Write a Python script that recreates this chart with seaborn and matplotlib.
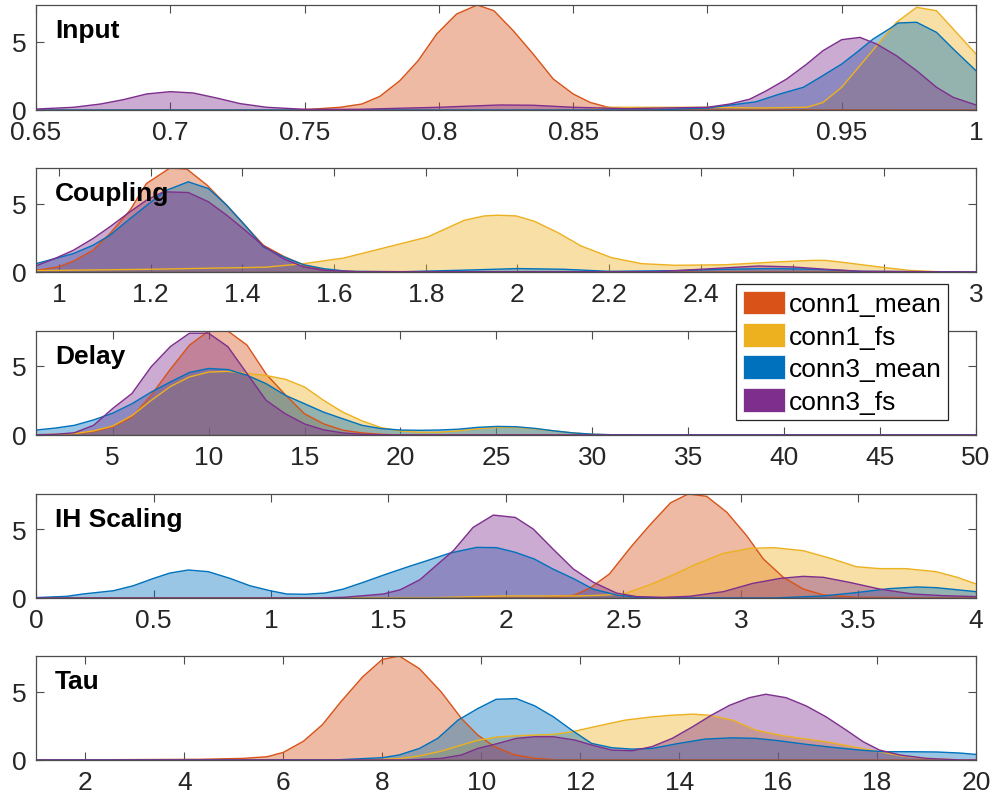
import matplotlib
matplotlib.use("Agg")
import matplotlib.pyplot as plt
import seaborn as sns
import pandas as pd
from matplotlib.patches import Patch
from matplotlib.colors import to_rgba

# ---------------- data ----------------
series_names = ["conn1_mean", "conn1_fs", "conn3_mean", "conn3_fs"]
series_colors = ["#D95319", "#EDB120", "#0072BD", "#7E2F8E"]
panel_titles = ["Input", "Coupling", "Delay", "IH Scaling", "Tau"]

# Input
input_x_c1m = [0.65, 0.74, 0.752, 0.7632, 0.7713, 0.778, 0.7855, 0.7923, 0.7992, 0.8066, 0.8143, 0.8205, 0.8277, 0.8351, 0.8426, 0.85, 0.8563, 0.863, 0.87, 1.0]
input_y_c1m = [0, 0, 0.05, 0.2, 0.44, 1.0, 2.16, 3.63, 5.59, 7.06, 7.72, 7.3, 5.83, 4.12, 2.28, 1.18, 0.56, 0.2, 0.05, 0]
input_x_c1f = [0.65, 0.855, 0.862, 0.9, 0.92, 0.937, 0.943, 0.95, 0.9568, 0.963, 0.9704, 0.9779, 0.9853, 0.9915, 1.0]
input_y_c1f = [0, 0, 0.2, 0.2, 0.15, 0.2, 0.55, 1.67, 3.26, 4.73, 6.45, 7.55, 7.3, 5.96, 4.12]
input_x_c3m = [0.65, 0.88, 0.9, 0.918, 0.927, 0.9357, 0.9419, 0.95, 0.9556, 0.9617, 0.968, 0.971, 0.9779, 0.9853, 0.9915, 1.0]
input_y_c3m = [0, 0, 0.15, 0.6, 1.18, 1.67, 2.4, 3.38, 4.24, 5.22, 6.0, 6.4, 6.45, 5.71, 4.49, 2.89]
input_x_c3f = [0.65, 0.664, 0.674, 0.6825, 0.6912, 0.7, 0.7086, 0.7173, 0.726, 0.7359, 0.75, 0.77, 0.8, 0.8227, 0.835, 0.85, 0.87, 0.9, 0.9084, 0.9158, 0.922, 0.9295, 0.937, 0.943, 0.95, 0.9568, 0.963, 0.9704, 0.9779, 0.9853, 0.9915, 1.0]
input_y_c3f = [0.07, 0.2, 0.44, 0.76, 1.18, 1.35, 1.25, 0.88, 0.47, 0.2, 0.05, 0.05, 0.2, 0.37, 0.35, 0.2, 0.1, 0.2, 0.44, 0.8, 1.42, 2.28, 3.38, 4.36, 5.17, 5.34, 4.85, 3.99, 2.89, 1.67, 0.93, 0.37]

# Coupling
coup_x_c1m = [0.95, 0.998, 1.031, 1.074, 1.111, 1.155, 1.191, 1.242, 1.279, 1.323, 1.366, 1.406, 1.446, 1.49, 1.534, 1.578, 1.65, 3.0]
coup_y_c1m = [0.12, 0.37, 0.78, 1.58, 2.8, 4.51, 6.47, 7.6, 7.52, 6.35, 4.88, 3.4, 1.95, 1.15, 0.5, 0.15, 0.03, 0]
coup_x_c1f = [0.95, 1.2, 1.45, 1.534, 1.621, 1.709, 1.804, 1.884, 1.928, 1.957, 1.997, 2.037, 2.088, 2.139, 2.205, 2.271, 2.344, 2.453, 2.562, 2.643, 2.672, 2.716, 2.789, 2.854, 2.92, 3.0]
coup_y_c1f = [0.1, 0.2, 0.35, 0.61, 1.02, 1.76, 2.56, 3.78, 4.1, 4.15, 4.1, 3.71, 2.88, 1.9, 1.05, 0.61, 0.49, 0.53, 0.73, 0.85, 0.85, 0.68, 0.37, 0.12, 0.02, 0]
coup_x_c3m = [0.95, 0.99, 1.031, 1.074, 1.111, 1.155, 1.206, 1.235, 1.282, 1.326, 1.366, 1.406, 1.446, 1.49, 1.534, 1.578, 1.63, 1.75, 1.9, 2.0, 2.1, 2.2, 2.35, 2.45, 2.55, 2.65, 2.75, 3.0]
coup_y_c3m = [0.61, 0.97, 1.34, 1.95, 2.68, 3.9, 5.25, 5.98, 6.59, 6.1, 4.88, 3.41, 1.83, 1.1, 0.53, 0.24, 0.05, 0.02, 0.15, 0.25, 0.2, 0.05, 0.1, 0.2, 0.25, 0.2, 0.05, 0]
coup_x_c3f = [0.95, 0.99, 1.031, 1.074, 1.111, 1.155, 1.191, 1.228, 1.282, 1.326, 1.366, 1.406, 1.446, 1.49, 1.534, 1.578, 1.65, 2.3, 2.4, 2.526, 2.599, 2.672, 2.75, 3.0]
coup_y_c3f = [0.45, 0.97, 1.58, 2.44, 3.3, 4.4, 5.25, 5.86, 5.81, 5.13, 4.15, 3.05, 1.9, 0.97, 0.37, 0.12, 0.02, 0.02, 0.2, 0.44, 0.37, 0.2, 0.05, 0]

# Delay
delay_x = [1, 2, 3, 4, 5, 6, 7, 8, 9, 10, 11, 12, 13, 14, 15, 16, 17, 18, 19, 20, 21, 22, 23, 24, 25, 26, 27, 28, 29, 30, 31, 50]
delay_y_c1m = [0.01, 0.03, 0.1, 0.25, 0.6, 1.3, 2.87, 4.75, 6.5, 7.52, 7.52, 6.5, 4.4, 2.9, 1.53, 0.8, 0.35, 0.15, 0.05, 0, 0, 0, 0, 0, 0, 0, 0, 0, 0, 0, 0, 0]
delay_y_c1f = [0.02, 0.05, 0.1, 0.3, 0.65, 1.4, 2.5, 3.5, 4.2, 4.55, 4.6, 4.45, 4.3, 4.03, 3.47, 2.5, 1.65, 1.02, 0.53, 0.29, 0.2, 0.2, 0.3, 0.45, 0.55, 0.55, 0.45, 0.3, 0.15, 0.05, 0.02, 0]
delay_y_c3m = [0.36, 0.5, 0.7, 1.09, 1.58, 2.26, 3.1, 3.83, 4.52, 4.81, 4.73, 4.32, 3.71, 2.87, 2.26, 1.65, 1.17, 0.7, 0.46, 0.36, 0.34, 0.36, 0.42, 0.55, 0.62, 0.6, 0.48, 0.3, 0.15, 0.06, 0.02, 0]
delay_y_c3f = [0.02, 0.05, 0.16, 0.7, 1.92, 3.0, 4.93, 6.39, 7.36, 7.36, 6.39, 4.44, 2.5, 1.53, 0.8, 0.37, 0.15, 0.05, 0.02, 0, 0, 0, 0, 0, 0, 0, 0, 0, 0, 0, 0, 0]

# IH Scaling
ih_x_c1m = [0, 2.1, 2.2, 2.29, 2.36, 2.44, 2.53, 2.61, 2.70, 2.775, 2.854, 2.94, 3.024, 3.095, 3.18, 3.265, 3.35, 3.49, 4.0]
ih_y_c1m = [0, 0, 0.05, 0.2, 0.75, 1.74, 3.67, 5.25, 6.9, 7.54, 7.37, 6.21, 4.52, 2.83, 1.5, 0.65, 0.22, 0.05, 0]
ih_x_c1f = [0, 1.7, 2.0, 2.3, 2.4, 2.5, 2.61, 2.71, 2.81, 2.925, 3.04, 3.14, 3.265, 3.38, 3.49, 3.59, 3.7, 3.83, 3.92, 4.0]
ih_y_c1f = [0, 0.03, 0.15, 0.15, 0.2, 0.29, 0.94, 1.67, 2.46, 3.24, 3.6, 3.65, 3.43, 2.88, 2.27, 2.13, 2.13, 1.91, 1.5, 1.02]
ih_x_c3m = [0, 0.13, 0.2, 0.33, 0.414, 0.5, 0.57, 0.648, 0.733, 0.826, 0.91, 0.996, 1.067, 1.145, 1.23, 1.308, 1.393, 1.492, 1.584, 1.677, 1.762, 1.875, 1.96, 2.04, 2.12, 2.2, 2.29, 2.37, 2.47, 2.556, 2.7, 3.14, 3.35, 3.49, 3.63, 3.75, 3.83, 4.0]
ih_y_c3m = [0.03, 0.12, 0.29, 0.53, 0.89, 1.42, 1.81, 2.03, 1.91, 1.42, 0.89, 0.53, 0.29, 0.27, 0.36, 0.65, 1.14, 1.74, 2.27, 2.78, 3.26, 3.67, 3.65, 3.31, 2.83, 2.1, 1.38, 0.65, 0.22, 0.05, 0.0, 0.0, 0.15, 0.39, 0.68, 0.8, 0.75, 0.46]
ih_x_c3f = [0, 1.2, 1.31, 1.478, 1.55, 1.634, 1.705, 1.776, 1.86, 1.946, 2.04, 2.116, 2.2, 2.287, 2.372, 2.47, 2.556, 2.67, 2.78, 2.925, 3.05, 3.166, 3.265, 3.35, 3.46, 3.59, 3.73, 3.86, 4.0]
ih_y_c3f = [0, 0, 0.05, 0.29, 0.6, 1.33, 2.39, 3.43, 5.12, 6.01, 5.84, 5.0, 3.55, 2.1, 1.14, 0.36, 0.1, 0.05, 0.12, 0.46, 1.06, 1.42, 1.57, 1.5, 1.14, 0.65, 0.29, 0.17, 0.1]

# Tau
tau_x_c1m = [1, 4.31, 5.19, 5.67, 6.0, 6.41, 6.79, 7.16, 7.6, 8.0, 8.34, 8.75, 9.19, 9.6, 9.93, 10.27, 10.68, 11.09, 11.5, 20]
tau_y_c1m = [0, 0.05, 0.12, 0.24, 0.56, 1.39, 2.6, 4.27, 6.1, 7.39, 7.64, 6.71, 5.0, 3.05, 1.83, 0.98, 0.37, 0.12, 0.02, 0]
tau_x_c1f = [1, 7.5, 8.34, 8.75, 9.19, 9.6, 9.93, 10.34, 10.71, 11.46, 11.83, 12.37, 12.91, 13.45, 13.86, 14.27, 14.6, 15.08, 15.55, 16.1, 16.57, 16.97, 17.5, 18.05, 18.46, 18.99, 19.6, 20]
tau_y_c1f = [0, 0, 0.1, 0.3, 0.65, 1.1, 1.45, 1.7, 1.78, 1.88, 2.07, 2.51, 2.93, 3.17, 3.29, 3.37, 3.29, 2.93, 2.19, 1.78, 1.54, 1.34, 0.98, 0.61, 0.32, 0.12, 0.02, 0]
tau_x_c3m = [1, 7.0, 8.0, 8.34, 8.75, 9.12, 9.53, 9.93, 10.3, 10.71, 11.08, 11.46, 11.83, 12.23, 12.64, 13.05, 13.45, 13.99, 14.53, 15.08, 15.55, 16.03, 16.57, 17.1, 17.65, 18.12, 18.66, 19.2, 19.68, 20]
tau_y_c3m = [0, 0, 0.17, 0.37, 0.85, 1.59, 2.93, 3.78, 4.46, 4.51, 3.98, 3.17, 2.19, 1.22, 0.9, 0.8, 0.85, 1.22, 1.54, 1.63, 1.59, 1.41, 1.15, 0.93, 0.73, 0.61, 0.61, 0.59, 0.51, 0.41]
tau_x_c3f = [1, 8.5, 9.19, 9.6, 9.93, 10.34, 10.71, 11.08, 11.46, 11.9, 12.23, 12.64, 13.05, 13.45, 13.86, 14.27, 14.65, 15.02, 15.42, 15.75, 16.16, 16.57, 16.97, 17.38, 17.72, 18.05, 18.46, 18.99, 19.7, 20]
tau_y_c3f = [0, 0, 0.12, 0.37, 0.85, 1.22, 1.59, 1.71, 1.71, 1.46, 1.1, 0.73, 0.68, 0.98, 1.59, 2.44, 3.29, 4.02, 4.58, 4.83, 4.58, 3.97, 3.17, 2.19, 1.34, 0.73, 0.37, 0.12, 0, 0]

# axis settings
xlims = [(0.65, 1.0), (0.95, 3.0), (1, 50), (0, 4), (1, 20)]
xticks_input = [0.65, 0.7, 0.75, 0.8, 0.85, 0.9, 0.95, 1.0]
xticklabels_input = ["0.65", "0.7", "0.75", "0.8", "0.85", "0.9", "0.95", "1"]
xticks_coup = [1.0, 1.2, 1.4, 1.6, 1.8, 2.0, 2.2, 2.4, 2.6, 2.8, 3.0]
xticklabels_coup = ["1", "1.2", "1.4", "1.6", "1.8", "2", "2.2", "2.4", "2.6", "2.8", "3"]
xticks_delay = [5, 10, 15, 20, 25, 30, 35, 40, 45, 50]
xticklabels_delay = ["5", "10", "15", "20", "25", "30", "35", "40", "45", "50"]
xticks_ih = [0, 0.5, 1, 1.5, 2, 2.5, 3, 3.5, 4]
xticklabels_ih = ["0", "0.5", "1", "1.5", "2", "2.5", "3", "3.5", "4"]
xticks_tau = [2, 4, 6, 8, 10, 12, 14, 16, 18, 20]
xticklabels_tau = ["2", "4", "6", "8", "10", "12", "14", "16", "18", "20"]
yticks = [0, 5]

panels = [
    ([(input_x_c1m, input_y_c1m), (input_x_c1f, input_y_c1f), (input_x_c3m, input_y_c3m), (input_x_c3f, input_y_c3f)], xticks_input, xticklabels_input),
    ([(coup_x_c1m, coup_y_c1m), (coup_x_c1f, coup_y_c1f), (coup_x_c3m, coup_y_c3m), (coup_x_c3f, coup_y_c3f)], xticks_coup, xticklabels_coup),
    ([(delay_x, delay_y_c1m), (delay_x, delay_y_c1f), (delay_x, delay_y_c3m), (delay_x, delay_y_c3f)], xticks_delay, xticklabels_delay),
    ([(ih_x_c1m, ih_y_c1m), (ih_x_c1f, ih_y_c1f), (ih_x_c3m, ih_y_c3m), (ih_x_c3f, ih_y_c3f)], xticks_ih, xticklabels_ih),
    ([(tau_x_c1m, tau_y_c1m), (tau_x_c1f, tau_y_c1f), (tau_x_c3m, tau_y_c3m), (tau_x_c3f, tau_y_c3f)], xticks_tau, xticklabels_tau),
]

# ---------------- style ----------------
sns.set_theme(style="ticks")
plt.rcParams["font.family"] = ["Liberation Sans", "DejaVu Sans"]
FS = 19
TXT = "#262626"

W, H = 991, 803
fig = plt.figure(figsize=(W / 100, H / 100), dpi=100)
fig.patch.set_facecolor("white")

ax_tops = [6, 169, 332, 495, 657]
ax_bots = [111, 273, 436, 599, 761]
ax_left, ax_right = 36, 976

for i, (series, xt, xtl) in enumerate(panels):
    ax = fig.add_axes([ax_left / W, 1 - ax_bots[i] / H, (ax_right - ax_left) / W,
                       (ax_bots[i] - ax_tops[i]) / H])
    ax.set_facecolor("white")
    ymax = 0
    for (xs, ys), name, col in zip(series, series_names, series_colors):
        df = pd.DataFrame({"x": xs, "y": ys})
        ax.fill_between(df["x"], df["y"], 0, facecolor=to_rgba(col, 0.4),
                        edgecolor="none", zorder=2)
        sns.lineplot(data=df, x="x", y="y", ax=ax, color=col, lw=1.0,
                     sort=False, estimator=None, zorder=3, legend=False)
        ax.plot([xs[0], xs[-1]], [0, 0], color=col, lw=1.0, zorder=3)
        ymax = max(ymax, max(ys))
    ax.set_xlim(*xlims[i])
    ax.set_ylim(0, ymax)
    ax.set_xticks(xt)
    ax.set_xticklabels(xtl)
    ax.set_yticks(yticks)
    ax.set_yticklabels(["0", "5"])
    ax.set_xlabel("")
    ax.set_ylabel("")
    ax.tick_params(direction="in", top=True, right=True, length=6, width=0.8,
                   color="#4d4d4d", labelsize=FS, labelcolor=TXT, pad=7)
    for sp in ax.spines.values():
        sp.set_color("#4d4d4d")
        sp.set_linewidth(0.9)
        sp.set_zorder(5)
    ax.text(0.02, 0.76, panel_titles[i], transform=ax.transAxes, fontsize=FS,
            fontweight="bold", color="black", va="center", ha="left", zorder=6)

handles = [Patch(facecolor=c, edgecolor="white", linewidth=0.5, label=n)
           for n, c in zip(series_names, series_colors)]
leg = fig.legend(handles=handles, loc="upper left",
                 bbox_to_anchor=(736 / W, 1 - 285 / H), fontsize=FS,
                 frameon=True, fancybox=False, framealpha=1, edgecolor="#262626",
                 borderpad=0.25, borderaxespad=0, handlelength=1.6, handleheight=1.0,
                 handletextpad=0.15, labelspacing=0.25)
leg.get_frame().set_linewidth(0.9)
for t in leg.get_texts():
    t.set_color("black")

fig.savefig("out.png", dpi=100, facecolor="white")
